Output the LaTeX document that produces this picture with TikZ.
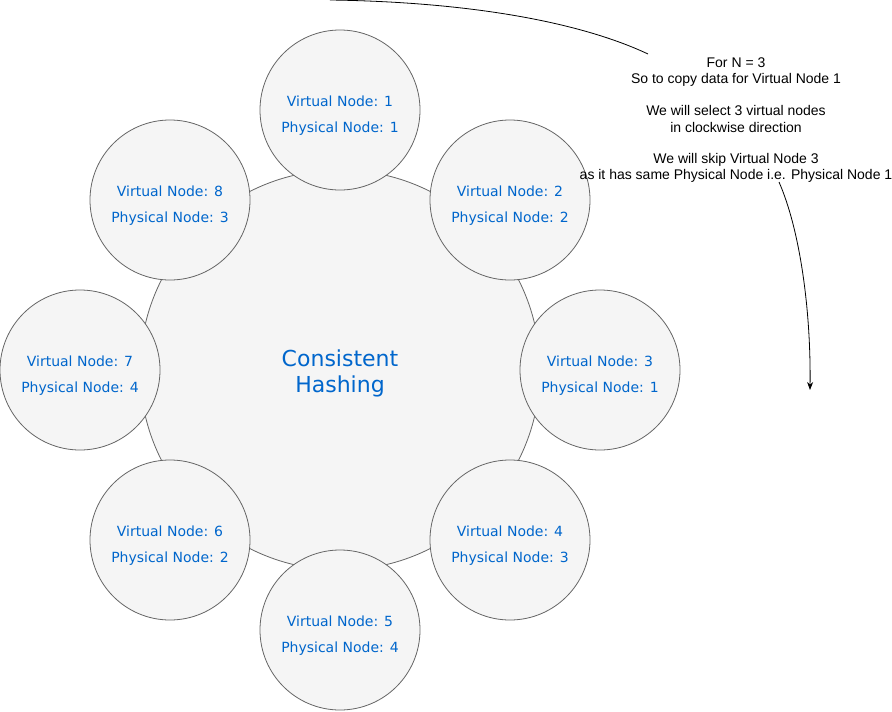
\documentclass[tikz,border=0pt]{standalone}
\usepackage{fontspec}
\setmainfont{Liberation Sans}
\newfontfamily\dvs{DejaVu Sans}
\usetikzlibrary{arrows.meta}
\definecolor{nodeblue}{HTML}{0066CC}
\definecolor{ringfill}{HTML}{F5F5F5}
\definecolor{ringline}{HTML}{666666}
\tikzset{
  ring/.style={circle, draw=ringline, fill=ringfill, line width=0.8pt, minimum size=#1, inner sep=0pt},
  vlabel/.style={font=\dvs\fontsize{14}{26}\selectfont, text=nodeblue, align=center},
  note/.style={font=\fontsize{14}{16.2}\selectfont, align=center, text=black},
  curvy/.style={draw=black, line width=0.8pt}
}
\begin{document}
\begin{tikzpicture}[x=1pt,y=-1pt]
\useasboundingbox (0,0) rectangle (892,712);
\node[ring=400pt] (hub) at (340,370) {};
\node[vlabel, font=\dvs\fontsize{22}{26}\selectfont] (hubtext) at (340,373) {Consistent\\Hashing};
\foreach \i/\x/\y/\p in {1/340/110/1, 2/510/200/2, 3/600/370/1, 4/510/540/3, 5/340/630/4, 6/170/540/2, 7/80/370/4, 8/170/200/3}{
  \node[ring=160pt] (v\i) at (\x,\y) {};
  \node[vlabel] (t\i) at (\x,\y+6) {Virtual Node: \i\\Physical Node: \p};
}
\node[note] (ann) at (736,120) {For N = 3\\So to copy data for Virtual Node 1\\[16pt]We will select 3 virtual nodes\\in clockwise direction\\[15pt]We will skip Virtual Node 3\\as it has same Physical Node i.e. Physical Node 1};
\coordinate (cs) at (330,0);
\coordinate (c1) at (648,54);
\coordinate (c2) at (779,182);
\coordinate (ce) at (810,390);
\draw[curvy] (cs) .. controls (470,2) and (580,22) .. (c1);
\draw[curvy, -{Stealth[length=8pt,width=6pt]}] (c2) .. controls (800,230) and (811,310) .. (ce);
\end{tikzpicture}
\end{document}
